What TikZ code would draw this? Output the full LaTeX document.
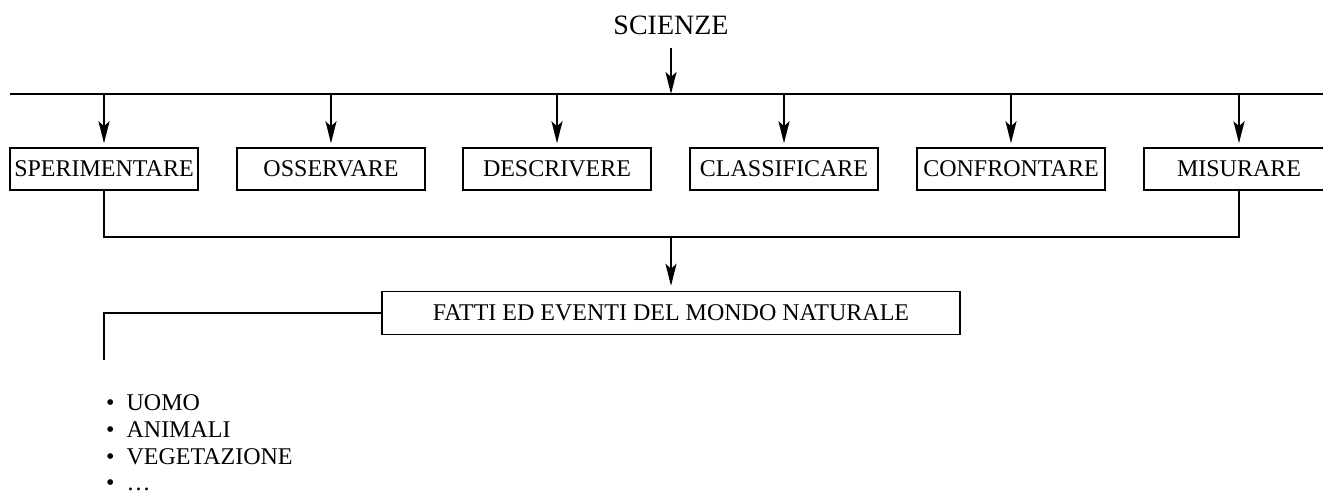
\documentclass[tikz,border=0pt]{standalone}
\usepackage{fontspec}
\setmainfont{Liberation Serif}
\usetikzlibrary{arrows.meta}
\begin{document}
\begin{tikzpicture}[x=1pt,y=-1pt,
  lbl/.style={font=\fontsize{24}{29}\selectfont},
  actbox/.style={draw, line width=1.4pt, minimum width=188pt, minimum height=42pt, inner sep=0pt, lbl},
  thick line/.style={line width=2.6pt},
  arr/.style={line width=2.3pt, -{Stealth[length=22pt,width=11pt,inset=5pt]}}
]
\useasboundingbox (0,0) rectangle (1323,495);
% title
\node[font=\fontsize{28}{32}\selectfont, anchor=base] (sc) at (671,35) {SCIENZE};
\coordinate (sct) at (671,48);
\coordinate (hl) at (10,94);
\coordinate (hr) at (1330,94);
\coordinate (hm) at (671,94);
\draw[thick line] (hl) -- (hr);
\draw[arr] (sct) -- (hm);
% boxes
\node[actbox] (b1) at (104,169) {SPERIMENTARE};
\node[actbox] (b2) at (331,169) {OSSERVARE};
\node[actbox] (b3) at (557,169) {DESCRIVERE};
\node[actbox] (b4) at (784,169) {CLASSIFICARE};
\node[actbox] (b5) at (1011,169) {CONFRONTARE};
\node[actbox, minimum width=190pt] (b6) at (1239,169) {MISURARE};
\foreach \b/\x in {b1/104,b2/331,b3/557,b4/784,b5/1011,b6/1239}{
  \coordinate (t\b) at (\x,94);
  \draw[arr, shorten >=4pt] (t\b) -- (\b.north);
}
% bracket
\coordinate (bl) at (104,237);
\coordinate (br) at (1239,237);
\coordinate (bm) at (671,237);
\draw[thick line, line cap=rect] (b1.south) -- (bl) -- (br) -- (b6.south);
\node[actbox, minimum width=578pt, minimum height=43pt] (f) at (671,313) {FATTI ED EVENTI DEL MONDO NATURALE};
\draw[arr, shorten >=5pt] (bm) -- (f.north);
% left branch
\coordinate (lc) at (104,313);
\coordinate (ld) at (104,359);
\draw[thick line, line cap=rect] (f.west) -- (lc) -- (ld);
% list
\foreach \t/\y [count=\i] in {UOMO/410,ANIMALI/437,VEGETAZIONE/464,\dots/490}{
  \node[lbl, anchor=base west, inner sep=0pt] (it\i) at (106,\y) {•\hspace{0.5em}\t};
}
\end{tikzpicture}
\end{document}
